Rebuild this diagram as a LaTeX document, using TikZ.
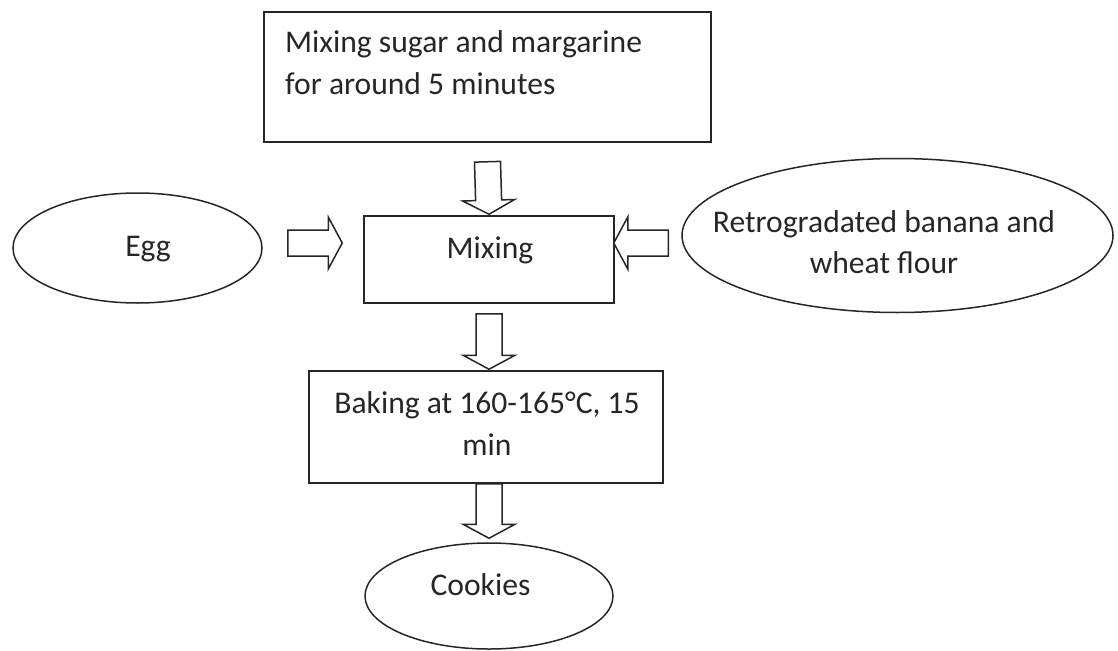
\documentclass[tikz,border=0pt]{standalone}
\usepackage{fontspec}
\setmainfont{Carlito}
\usetikzlibrary{calc,shapes.geometric}

\tikzset{
  box/.style={draw=black!85, line width=1.5pt, rectangle, inner sep=0pt},
  oval/.style={draw=black!85, line width=1.5pt, ellipse, inner sep=0pt},
  txt/.style={font=\fontsize{31.6}{42}\selectfont, inner sep=0pt, text=black!85},
  flowarrow/.style={draw=black!85, line width=1.5pt, line join=miter, fill=white},
}

% hollow block arrow from #1 to #2 (tip at #2)
\newcommand{\blockarrow}[2]{%
  \draw[flowarrow] let \p1=#1, \p2=#2,
      \n1={veclen(\x2-\x1,\y2-\y1)},
      \n2={(\x2-\x1)/\n1}, \n3={(\y2-\y1)/\n1} in
    ({\x1-13*\n3},{\y1+13*\n2})
    -- ({\x1+(\n1-14)*\n2-13*\n3},{\y1+(\n1-14)*\n3+13*\n2})
    -- ({\x1+(\n1-14)*\n2-26*\n3},{\y1+(\n1-14)*\n3+26*\n2})
    -- (\p2)
    -- ({\x1+(\n1-14)*\n2+26*\n3},{\y1+(\n1-14)*\n3-26*\n2})
    -- ({\x1+(\n1-14)*\n2+13*\n3},{\y1+(\n1-14)*\n3-13*\n2})
    -- ({\x1+13*\n3},{\y1-13*\n2})
    -- cycle;}

\begin{document}
\begin{tikzpicture}[x=1pt,y=-1pt]
\useasboundingbox (0,0) rectangle (1118,650);

% process steps (multi-line texts are placed by their last baseline)
\node[box, minimum width=447pt, minimum height=130pt] (top) at (487.5,77) {};
\node[txt, anchor=base west, align=left] (toptxt) at (285,95)
  {Mixing sugar and margarine\\for around 5 minutes};

\node[box, minimum width=250pt, minimum height=87pt] (mix) at (489,259.5) {};
\node[txt, anchor=base] (mixtxt) at (490,258) {Mixing};

\node[box, minimum width=354pt, minimum height=112pt] (bake) at (486,427) {};
\node[txt, anchor=base, align=center] (baketxt) at (487,455)
  {Baking at 160-165°C, 15\\min};

% ingredients and product
\node[oval, minimum width=249pt, minimum height=110pt] (egg) at (137.5,248) {};
\node[txt, anchor=base] (eggtxt) at (148,256) {Egg};

\node[oval, minimum width=431pt, minimum height=154pt] (flour) at (897.5,235.5) {};
\node[txt, anchor=base, align=center, font=\fontsize{31.6}{41}\selectfont] (flourtxt) at (884,273)
  {Retrogradated banana and\\wheat flour};

\node[oval, minimum width=248pt, minimum height=106pt] (cookies) at (489,596) {};
\node[txt, anchor=base] (cookiestxt) at (480.5,595) {Cookies};

% flow
\blockarrow{($(top.south)+(0,19)$)}{($(mix.north)+(0,-1)$)}
\blockarrow{($(egg.east)+(25,-5)$)}{($(mix.west)+(-21,-16.5)$)}
\blockarrow{($(flour.west)+(-13,7.5)$)}{($(mix.east)+(-1,-16.5)$)}
\blockarrow{($(mix.south)+(0,10)$)}{($(bake.north)+(3,-1)$)}
\blockarrow{($(bake.south)+(3,0)$)}{($(cookies.north)+(0,-4)$)}
\end{tikzpicture}
\end{document}
